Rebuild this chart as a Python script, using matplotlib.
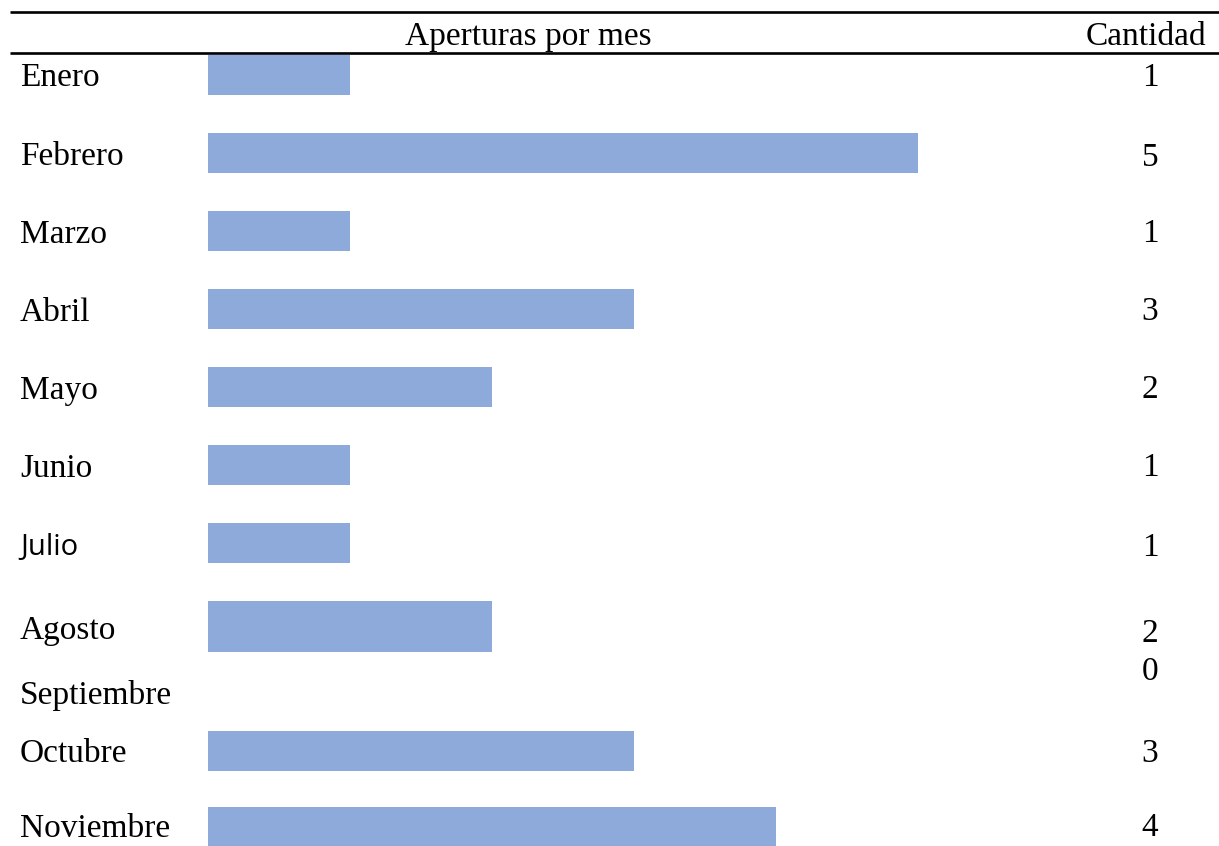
import matplotlib.pyplot as plt
from matplotlib.transforms import blended_transform_factory

meses = ["Enero", "Febrero", "Marzo", "Abril", "Mayo", "Junio", "Julio",
         "Agosto", "Septiembre", "Octubre", "Noviembre"]
cantidad = [1, 5, 1, 3, 2, 1, 1, 2, 0, 3, 4]

titulo = "Aperturas por mes"
col_cantidad = "Cantidad"

# layout (pixel rows of the original table)
W, H = 1219, 846
fila_y = [75, 154, 232, 310, 388, 466, 544, 628, 693, 751, 826]
num_y = [76, 155, 232, 310, 388, 466, 545, 631, 670, 751, 826]
barra_y = [75, 153, 231, 309, 387, 465, 543, 627, 693, 751, 827]
alto_barra = [40, 40, 40, 40, 40, 40, 40, 51, 40, 40, 40]
x0, unidad = 208, 142

fig = plt.figure(figsize=(W / 100, H / 100), dpi=100)
ax = fig.add_axes([0, 0, 1, 1])
ax.set_xlim(-x0 / unidad, (W - x0) / unidad)
ax.set_ylim(H, 0)
ax.axis("off")

tr = blended_transform_factory(ax.transAxes, ax.transData)
serif = ["Liberation Serif", "DejaVu Serif"]
fs = 24

ax.barh(barra_y, cantidad, height=alto_barra, left=0, color="#8EAADB")

for y in (12, 53.5):
    ax.plot([10 / W, 1], [y, y], transform=tr, color="black", lw=1.9,
            solid_capstyle="butt")

ax.text(528 / W, 45, titulo, transform=tr, ha="center", va="baseline",
        fontsize=fs, family=serif)
ax.text(1206 / W, 45, col_cantidad, transform=tr, ha="right", va="baseline",
        fontsize=fs, family=serif)

for mes, y, n, ny in zip(meses, fila_y, cantidad, num_y):
    if mes == "Julio":
        ax.text(20 / W, y + 10.5, mes, transform=tr, ha="left", va="baseline",
                fontsize=fs - 3, family=["Open Sans", "DejaVu Sans"])
    else:
        ax.text(20 / W, y + 11, mes, transform=tr, ha="left", va="baseline",
                fontsize=fs, family=serif)
    ax.text(1150 / W, ny + 10.5, str(n), transform=tr, ha="center",
            va="baseline", fontsize=fs, family=serif)

fig.savefig("out.png", dpi=100)
